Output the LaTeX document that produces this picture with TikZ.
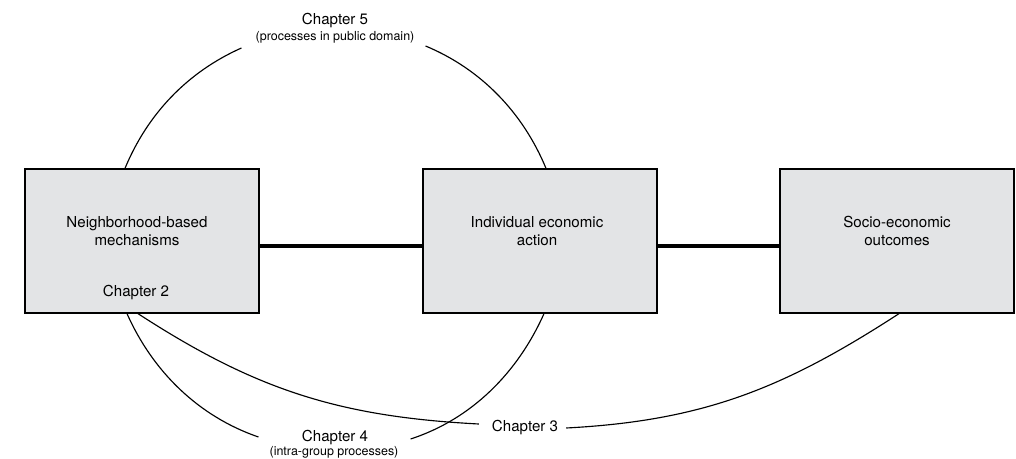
\documentclass[tikz,border=0pt]{standalone}
\usepackage{fontspec}
\setmainfont{TeX Gyre Heros}
\usetikzlibrary{calc}
\definecolor{boxgray}{RGB}{227,228,230}

\begin{document}
\begin{tikzpicture}[x=0.02cm,y=0.02cm]
        \tikzset{
          box/.style={draw, line width=0.75pt, fill=boxgray, minimum width=4.68cm, minimum height=2.88cm, inner sep=0pt},
          txt/.style={align=center, font=\fontsize{8.6}{10.3}\selectfont},
          sub/.style={font=\fontsize{7.1}{8.5}\selectfont},
          link/.style={line width=1.8pt},
          chline/.style={line width=0.65pt}
        }
        \useasboundingbox (0,0) rectangle (1016,459);

        % Draw the three boxes
        \node[box] (n1) at (142,218) {};
        \node[box] (n2) at (540,218) {};
        \node[box] (n3) at (897,218) {};

        % Box texts
        \node[txt] (t1) at (137,228) {Neighborhood-based\\mechanisms};
        \node[txt] (t2) at (537,228) {Individual economic\\action};
        \node[txt] (t3) at (897,228) {Socio-economic\\outcomes};
        \node[txt] (ch2) at (136,166) {Chapter 2};

        % Thick links between the boxes
        \draw[link] ([yshift=-0.1cm]n1.east) -- ([yshift=-0.1cm]n2.west);
        \draw[link] ([yshift=-0.1cm]n2.east) -- ([yshift=-0.1cm]n3.west);

        % Chapter labels
        \node[txt] (ch5) at (335,438) {Chapter 5};
        \node[sub] (ch5s) at (335,422) {(processes in public domain)};
        \node[txt] (ch4) at (335,21) {Chapter 4};
        \node[sub] (ch4s) at (334,7) {(intra-group processes)};
        \node[txt] (ch3) at (525,31) {Chapter 3};

        % Chapter 5 arc
        \draw[chline] ([xshift=-0.34cm]n1.north) to[out=67.5,in=204,looseness=0.9] ([shift={(-8,-11)}]ch5s.west);
        \draw[chline] ([shift={(5,-9)}]ch5s.east) to[out=-22.6,in=112.5,looseness=0.9] ([xshift=0.12cm]n2.north);

        % Chapter 4 arc
        \draw[chline] ([xshift=-0.3cm]n1.south) to[out=-66,in=161,looseness=0.9] ([shift={(-5,15)}]ch4s.west);
        \draw[chline] ([shift={(6,13)}]ch4s.east) to[out=18,in=246,looseness=0.9] ([xshift=0.08cm]n2.south);

        % Chapter 3 arc
        \draw[chline] ([xshift=-0.08cm]n1.south) to[out=-33,in=177] ([shift={(-7,4)}]ch3.west);
        \draw[chline] ([shift={(2,0)}]ch3.east) to[out=3,in=213] ([xshift=0.04cm]n3.south);

      \end{tikzpicture}
\end{document}
